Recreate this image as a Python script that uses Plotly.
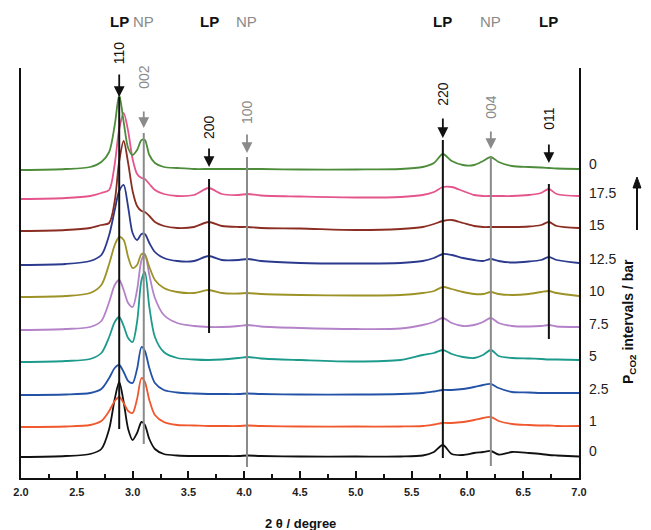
import plotly.graph_objects as go

# ---------------- data ----------------
two_theta = [2.00, 2.40, 2.62, 2.72, 2.79, 2.84, 2.88, 2.92, 2.96, 3.00,
             3.04, 3.08, 3.11, 3.15, 3.20, 3.28, 3.40, 3.55, 3.68, 3.80,
             3.95, 4.03, 4.15, 4.50, 5.00, 5.40, 5.60, 5.70, 5.78, 5.86,
             5.96, 6.06, 6.14, 6.21, 6.28, 6.40, 6.55, 6.66, 6.73, 6.80, 7.00]

# intensities (a.u.) above each pattern's own baseline
I_0_start = [0, 1, 3, 8, 28, 58, 75, 55, 28, 17,
             24, 35, 32, 18, 8, 3, 1.5, 1, 1, 1,
             1, 1.5, 1, 0.5, 0.5, 0.5, 1.5, 5, 12, 3,
             2, 4, 5, 6, 2.5, 5, 4, 3, 2, 1.5, 0.5]
I_1 = [0, 0.5, 2, 6, 16, 26, 30, 24, 16, 14,
       28, 49, 45, 27, 12, 5, 2, 1.5, 1, 1,
       1, 1.5, 1, 0.5, 0.5, 0.5, 1, 2.5, 4, 4,
       5, 7, 9, 10, 6, 3, 2, 1.5, 1.5, 1, 1]
I_2_5 = [0, 0.5, 2, 6, 17, 27, 30, 23, 14, 12,
         26, 48, 44, 27, 12, 5, 2.5, 1.5, 1, 1,
         1, 1.5, 1, 0.5, 0.5, 1, 2, 3.5, 5, 5,
         6, 8, 10, 11, 7, 3, 2.5, 2, 2, 2, 2]
I_5 = [0, 1, 3, 9, 25, 40, 45, 36, 24, 20,
       40, 82, 90, 55, 25, 10, 4, 2.5, 2, 2.5,
       4, 5, 3.5, 2, 0.5, 2, 7, 9, 12, 8,
       5, 4, 7, 12, 6, 4, 3.5, 3, 2.5, 2.5, 2]
I_7_5 = [0, 1, 3, 9, 28, 45, 50, 40, 27, 23,
         40, 70, 76, 55, 32, 15, 7, 4, 3, 3,
         4, 5, 3.5, 2, 1, 1.5, 5, 8, 12, 7,
         4, 5, 8, 12, 7, 4, 3.5, 4, 5, 3.5, 3]
I_10 = [0, 1, 4, 12, 33, 52, 60, 57, 40, 29,
        32, 43, 42, 30, 17, 9, 5, 4, 7, 4,
        3.5, 4, 3, 2, 1.5, 2, 4, 6, 10, 8,
        5, 3, 3, 5, 3, 2, 3, 5, 6, 4, 1]
I_12_5 = [0, 1, 4, 10, 30, 55, 74, 80, 58, 32,
          25, 31, 31, 22, 13, 7, 4, 4, 9, 5,
          5, 6, 4, 2, 1.5, 2, 4, 7, 11, 10,
          7, 5, 4, 6, 4, 2.5, 3.5, 5, 8, 5, 2]
I_15 = [0, 1, 3, 6, 8, 30, 70, 90, 68, 40,
        25, 20, 19, 15, 9, 5, 3, 4, 9, 5,
        4, 4, 3, 2.5, 1, 2, 4, 7, 10, 11,
        8, 5, 4, 4, 4, 4, 4.5, 6, 9, 5, 3]
I_17_5 = [0, 1, 3, 6, 9, 35, 70, 86, 68, 40,
          25, 21, 20, 15, 9, 5, 3, 4, 11, 5,
          4, 5, 3.5, 2.5, 1.5, 2, 4, 7, 12, 12,
          8, 4, 3, 3, 3, 3, 4, 6, 10, 5, 3]
I_0_end = [0, 1, 3, 8, 18, 45, 75, 48, 22, 15,
           20, 30, 30, 15, 7, 3, 2, 1, 1, 1,
           1, 1, 1, 0.5, 0.5, 1, 3, 7, 16, 9,
           5, 5, 9, 13, 8, 4, 3, 2.5, 2, 1.5, 1]

patterns = [I_0_start, I_1, I_2_5, I_5, I_7_5, I_10, I_12_5, I_15, I_17_5, I_0_end]
pressure_labels = ["0", "1", "2.5", "5", "7.5", "10", "12.5", "15", "17.5", "0"]
offsets = [21, 51, 83, 116, 148, 181, 213, 247, 279, 308]
colors = ["#111111", "#f0582e", "#2352a6", "#1c9a8c", "#b382c8",
          "#9c9226", "#2b3a8e", "#8a2d22", "#e4558c", "#4d8c3a"]

# reflections: (hkl, 2theta, phase)
refl_hkl = ["110", "002", "200", "100", "220", "004", "011"]
refl_pos = [2.88, 3.10, 3.685, 4.025, 5.78, 6.21, 6.73]
refl_phase = ["LP", "NP", "LP", "NP", "LP", "NP", "LP"]

# ---------------- figure ----------------
YMAX = 410.0
fig = go.Figure()
for vals, off, col in zip(patterns, offsets, colors):
    fig.add_trace(go.Scatter(
        x=two_theta, y=[v + off for v in vals], mode="lines",
        line=dict(color=col, width=1.8, shape="spline", smoothing=0.8),
        showlegend=False, hoverinfo="skip"))

# marker-line geometry (pixel-like y units, style only)
line_span = {"110": (381, 49), "002": (345, 34), "200": (299, 145), "100": (321, 11),
             "220": (338, 20), "004": (321, 12), "011": (294, 139)}
arrow_tip = {"110": (381, -24), "002": (350, -18), "200": (311, -20), "100": (325, -20),
             "220": (340, -21), "004": (329, -19), "011": (315, -20)}
hkl_y = {"110": 425, "002": 401, "200": 351, "100": 366, "220": 384, "004": 371, "011": 360}

FONT = "Liberation Sans, Arial, sans-serif"
GRAY = "#8a8a8a"
ann = []
shapes = []
for hkl, pos, ph in zip(refl_hkl, refl_pos, refl_phase):
    c = "#111111" if ph == "LP" else GRAY
    y0, y1 = line_span[hkl]
    shapes.append(dict(type="line", xref="x", yref="y", x0=pos, x1=pos, y0=y0, y1=y1,
                       line=dict(color=c, width=2), layer="above"))
    tip, ay = arrow_tip[hkl]
    ann.append(dict(x=pos, y=tip / YMAX, xref="x", yref="paper", text="", showarrow=True,
                    ax=0, ay=ay, arrowhead=2, arrowsize=1.2, arrowwidth=1.8,
                    arrowcolor=c, standoff=0))
    ann.append(dict(x=pos, y=hkl_y[hkl] / YMAX, xref="x", yref="paper", text=hkl,
                    showarrow=False, textangle=-90, xanchor="center", yanchor="middle",
                    font=dict(family=FONT, size=14, color=c)))
    ann.append(dict(x=pos, y=456 / YMAX, xref="x", yref="paper", text=ph, showarrow=False,
                    xanchor="center", yanchor="middle",
                    font=dict(family=FONT, size=15, color=c,
                              weight="bold" if ph == "LP" else "normal")))

for lab, off in zip(pressure_labels, offsets):
    ann.append(dict(x=1, y=(off + 6) / YMAX, xref="paper", yref="paper", text=lab,
                    showarrow=False, xanchor="left", yanchor="middle", xshift=8,
                    font=dict(family=FONT, size=14, color="#222")))

# right axis title
ann.append(dict(x=1, y=156 / YMAX, xref="paper", yref="paper",
                text="<b>P<sub>CO2</sub> intervals / bar</b>", showarrow=False,
                textangle=-90, xanchor="center", yanchor="middle", xshift=50,
                font=dict(family=FONT, size=14, color="#111")))
# right upward arrow (shapes in paper coords)
ax_x = 1 + 58 / 558.0
shapes.append(dict(type="line", xref="paper", yref="paper", x0=ax_x, x1=ax_x,
                   y0=248 / YMAX, y1=292 / YMAX, line=dict(color="#111", width=2)))
shapes.append(dict(type="path", xref="paper", yref="paper",
                   path=f"M {ax_x - 4/558:.5f} {290/YMAX:.5f} L {ax_x + 4/558:.5f} {290/YMAX:.5f} "
                        f"L {ax_x:.5f} {301/YMAX:.5f} Z",
                   fillcolor="#111", line=dict(color="#111", width=1)))
# x title
ann.append(dict(x=4.5, y=0, xref="x", yref="paper", yshift=-45, text="<b>2 θ / degree</b>",
                xanchor="center", yanchor="middle",
                showarrow=False, font=dict(family=FONT, size=13, color="#111")))

fig.update_layout(
    width=651, height=530,
    margin=dict(l=21, r=72, t=68, b=52),
    paper_bgcolor="white", plot_bgcolor="white",
    annotations=ann, shapes=shapes,
    xaxis=dict(range=[2.0, 7.0], tick0=2.0, dtick=0.5, tickformat=".1f",
               ticks="inside", ticklen=7, tickwidth=1.5, tickcolor="#111",
               minor=dict(dtick=0.25, ticks="inside", ticklen=4, tickwidth=1.5, tickcolor="#111"),
               showline=True, linecolor="#111", linewidth=2, mirror=False,
               showgrid=False, zeroline=False, ticklabelstandoff=3,
               tickfont=dict(family=FONT, size=11, color="#222", weight="bold")),
    yaxis=dict(range=[0, YMAX], showline=True, linecolor="#111", linewidth=2, mirror=True,
               showticklabels=False, ticks="", showgrid=False, zeroline=False),
)
fig.write_html("out.html", config={"displayModeBar": False},
               post_script="document.body.style.margin='0';document.body.style.overflow='hidden';")
